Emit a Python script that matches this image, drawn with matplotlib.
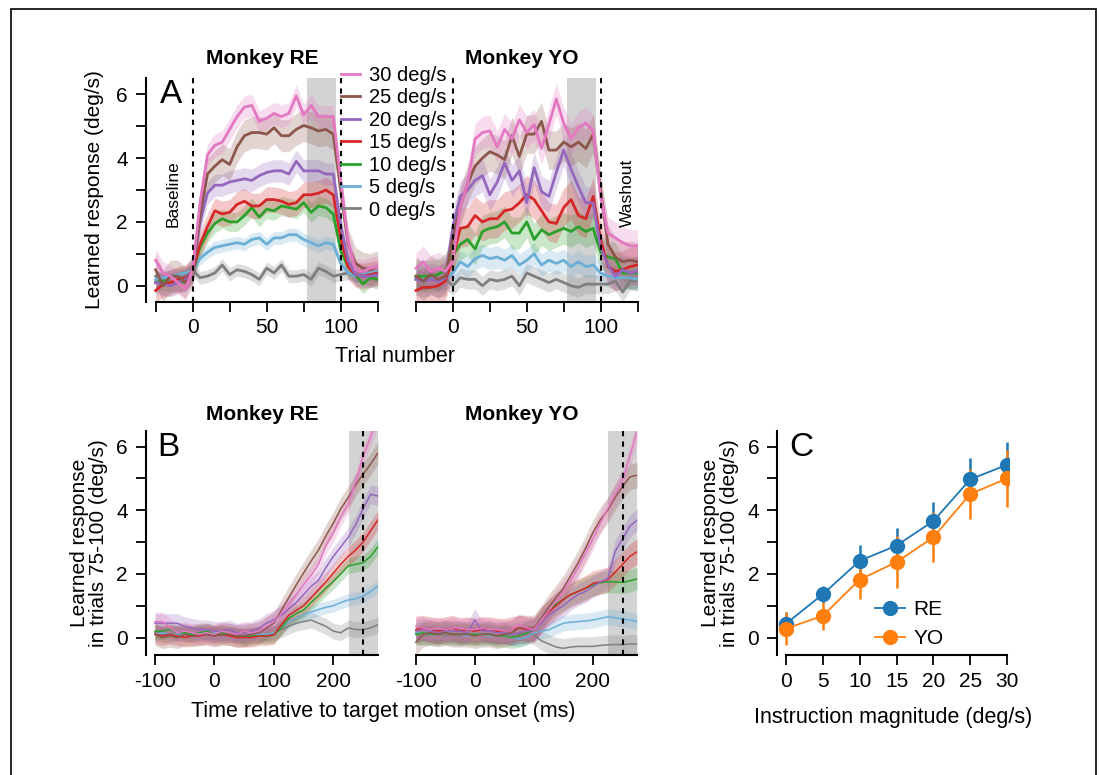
import matplotlib.pyplot as plt
import matplotlib.patches as patches
from matplotlib.lines import Line2D
import numpy as np

plt.rcParams['font.family'] = ['Liberation Sans', 'DejaVu Sans']
plt.rcParams['axes.unicode_minus'] = False

speeds = [30, 25, 20, 15, 10, 5, 0]
labels = ['%d deg/s' % s for s in speeds]
colors = ['#e377c2', '#8c564b', '#9467bd', '#d62728', '#2ca02c', '#6baed6', '#7f7f7f']

# ---- learning curves, 5-trial bins ----
trials = np.arange(-25, 130, 5)

a_re_30 = [0.8, 0.4, 0.3, 0.1, -0.1, 0.5, 2.6, 4.1, 4.4, 4.5, 4.9, 5.3, 5.6, 5.65, 5.15, 5.25, 5.4, 5.3, 5.4, 5.95, 5.35, 5.65, 5.3, 5.3, 5.3, 3.3, 1.4, 0.5, 0.45, 0.55, 0.6]
a_re_25 = [0.5, 0.0, 0.3, 0.3, 0.1, 0.45, 2.2, 3.5, 3.75, 3.95, 3.8, 4.35, 4.7, 4.8, 4.8, 4.75, 4.95, 4.7, 4.7, 4.9, 5.02, 4.95, 4.85, 4.9, 4.75, 3.0, 1.3, 0.7, 0.55, 0.5, 0.6]
a_re_20 = [0.1, 0.05, 0.0, 0.1, 0.2, 0.45, 2.0, 2.9, 3.15, 3.15, 3.25, 3.3, 3.35, 3.3, 3.45, 3.55, 3.6, 3.6, 3.5, 3.9, 3.6, 3.6, 3.6, 3.5, 3.5, 1.9, 0.8, 0.35, 0.3, 0.3, 0.35]
a_re_15 = [-0.15, 0.05, 0.1, 0.2, 0.25, 0.45, 1.3, 1.85, 2.35, 2.25, 2.3, 2.55, 2.65, 2.5, 2.5, 2.7, 2.7, 2.65, 2.55, 2.6, 2.85, 2.85, 2.9, 3.0, 2.85, 1.5, 0.6, 0.35, 0.3, 0.35, 0.4]
a_re_10 = [0.1, 0.15, 0.1, 0.15, 0.1, 0.45, 1.2, 1.65, 1.95, 2.1, 2.0, 2.0, 2.2, 2.45, 2.15, 2.4, 2.35, 2.5, 2.45, 2.4, 2.6, 2.3, 2.5, 2.45, 2.25, 1.1, 0.6, 0.35, 0.05, 0.25, 0.2]
a_re_5 = [0.2, 0.25, 0.3, 0.35, 0.4, 0.45, 0.85, 1.05, 1.2, 1.25, 1.3, 1.35, 1.3, 1.45, 1.5, 1.3, 1.5, 1.5, 1.6, 1.6, 1.45, 1.35, 1.25, 1.35, 1.3, 0.7, 0.4, 0.3, 0.35, 0.4, 0.45]
a_re_0 = [0.3, 0.2, 0.3, 0.35, 0.3, 0.5, 0.25, 0.3, 0.4, 0.65, 0.35, 0.5, 0.45, 0.35, 0.2, 0.55, 0.4, 0.65, 0.3, 0.3, 0.35, 0.2, 0.55, 0.45, 0.3, 0.35, 0.4, 0.3, 0.35, 0.35, 0.3]

a_yo_30 = [0.55, 0.75, 0.45, 0.55, 0.45, 0.8, 2.5, 3.2, 4.6, 4.8, 4.85, 4.35, 4.9, 4.6, 5.2, 4.8, 5.05, 4.3, 5.05, 5.85, 5.1, 4.6, 4.95, 5.1, 4.85, 2.8, 1.65, 1.5, 1.35, 1.25, 1.25]
a_yo_25 = [0.3, 0.15, 0.35, 0.2, 0.3, 1.5, 2.5, 3.2, 3.75, 4.0, 4.2, 4.1, 3.95, 4.7, 4.05, 4.75, 4.75, 5.15, 4.25, 4.25, 4.5, 4.35, 4.5, 4.3, 4.75, 3.0, 1.3, 0.9, 0.75, 0.8, 0.75]
a_yo_20 = [0.2, 0.15, 0.2, 0.15, 0.25, 1.85, 2.8, 3.0, 3.3, 3.45, 2.85, 3.25, 3.85, 3.3, 3.6, 2.6, 3.7, 2.95, 2.8, 3.55, 4.25, 3.65, 3.1, 2.6, 2.6, 1.2, 0.65, 0.3, 0.5, 0.4, 0.45]
a_yo_15 = [-0.15, -0.05, -0.05, 0.0, 0.15, 0.9, 1.8, 1.85, 2.2, 2.0, 2.1, 2.1, 2.35, 2.4, 2.6, 2.85, 2.7, 2.35, 2.0, 1.95, 2.45, 2.7, 2.2, 2.1, 2.8, 1.45, 0.6, 0.45, 0.5, 0.6, 0.65]
a_yo_10 = [0.3, 0.3, 0.3, 0.35, 0.5, 0.95, 1.3, 1.45, 1.15, 1.7, 1.8, 1.85, 2.0, 1.65, 1.65, 2.0, 1.45, 1.75, 1.6, 1.7, 1.8, 1.7, 1.85, 1.7, 1.8, 1.05, 0.9, 0.85, 0.4, 0.4, 0.4]
a_yo_5 = [0.25, 0.2, 0.25, 0.15, 0.2, 0.4, 0.75, 0.6, 0.85, 0.95, 0.85, 0.9, 0.8, 0.95, 0.65, 0.8, 1.0, 0.65, 0.8, 0.7, 0.8, 0.6, 0.75, 0.6, 0.65, 0.4, 0.3, 0.25, 0.25, 0.25, 0.2]
a_yo_0 = [0.2, 0.15, 0.25, 0.15, 0.2, 0.0, 0.25, 0.2, 0.2, 0.0, 0.2, 0.15, 0.2, 0.3, 0.0, 0.4, 0.3, 0.2, 0.1, 0.2, 0.1, 0.0, -0.05, 0.05, 0.05, 0.05, 0.05, 0.15, -0.2, 0.15, 0.15]

a_re_sem = [0.35, 0.5, 0.35, 0.4, 0.3, 0.2, 0.2]
a_yo_sem = [0.5, 0.6, 0.5, 0.6, 0.5, 0.35, 0.3]

# ---- average eye velocity in trials 75-100 ----
time_ms = np.arange(-100, 275.1, 12.5)

b_re_30 = [0.5, 0.5, 0.3, 0.15, 0.2, 0.15, 0.1, 0.15, 0.1, 0.2, 0.15, 0.1, 0.2, 0.15, 0.2, 0.35, 0.5, 0.75, 1.05, 1.35, 1.66, 1.95, 2.3, 2.9, 3.3, 3.8, 4.2, 4.9, 5.7, 6.3, 6.9]
b_re_25 = [0.1, 0.0, 0.05, 0.0, 0.1, 0.05, 0.1, 0.1, 0.05, 0.1, 0.1, 0.05, 0.05, 0.1, 0.15, 0.3, 0.45, 0.85, 1.25, 1.65, 2.03, 2.4, 2.75, 3.2, 3.6, 4.05, 4.4, 4.8, 5.13, 5.45, 5.8]
b_re_20 = [0.45, 0.45, 0.45, 0.45, 0.35, 0.3, 0.25, 0.25, 0.2, 0.2, 0.25, 0.15, 0.15, 0.2, 0.3, 0.45, 0.56, 0.7, 0.9, 1.1, 1.35, 1.6, 1.8, 2.2, 2.55, 2.85, 3.15, 3.55, 4.05, 4.5, 4.45]
b_re_15 = [0.1, 0.05, 0.1, 0.05, 0.0, 0.05, 0.05, 0.1, 0.05, 0.1, 0.05, 0.0, 0.0, 0.0, 0.05, 0.05, 0.08, 0.4, 0.7, 0.85, 1.0, 1.25, 1.5, 1.75, 2.03, 2.3, 2.55, 2.75, 3.0, 3.35, 3.7]
b_re_10 = [0.2, 0.2, 0.25, 0.15, 0.15, 0.1, 0.15, 0.2, 0.1, 0.15, 0.1, 0.05, 0.0, 0.05, 0.05, 0.05, 0.08, 0.3, 0.6, 0.75, 0.87, 1.1, 1.32, 1.55, 1.77, 2.0, 2.25, 2.3, 2.35, 2.55, 2.85]
b_re_5 = [0.1, 0.15, 0.1, 0.1, 0.15, 0.1, 0.15, 0.1, 0.15, 0.1, 0.1, 0.05, 0.05, 0.1, 0.1, 0.1, 0.14, 0.3, 0.48, 0.6, 0.72, 0.8, 0.88, 0.95, 1.0, 1.1, 1.18, 1.22, 1.3, 1.45, 1.62]
b_re_0 = [0.15, 0.1, 0.1, 0.15, 0.1, 0.1, 0.15, 0.1, 0.1, 0.05, 0.1, 0.1, 0.05, 0.1, 0.1, 0.1, 0.14, 0.25, 0.35, 0.45, 0.5, 0.55, 0.45, 0.35, 0.2, 0.15, 0.3, 0.25, 0.25, 0.3, 0.4]

b_yo_30 = [0.35, 0.3, 0.25, 0.3, 0.25, 0.3, 0.3, 0.25, 0.25, 0.3, 0.25, 0.25, 0.2, 0.25, 0.4, 0.3, 0.25, 0.55, 0.85, 1.15, 1.45, 1.8, 2.2, 2.65, 3.1, 3.6, 4.05, 4.5, 4.95, 5.7, 6.5]
b_yo_25 = [-0.15, 0.1, 0.15, 0.1, 0.15, 0.1, 0.1, 0.1, 0.05, 0.1, 0.1, 0.05, 0.1, 0.15, 0.3, 0.3, 0.3, 0.6, 0.95, 1.25, 1.55, 1.95, 2.35, 2.8, 3.3, 3.7, 4.0, 4.4, 4.75, 5.05, 5.1]
b_yo_20 = [0.2, 0.25, 0.2, 0.15, 0.2, 0.2, 0.2, 0.15, 0.55, 0.2, 0.2, 0.15, 0.15, 0.1, 0.15, 0.2, 0.24, 0.45, 0.7, 0.85, 1.0, 1.2, 1.35, 1.45, 1.6, 1.75, 1.85, 2.7, 3.1, 3.5, 3.7]
b_yo_15 = [0.25, 0.3, 0.25, 0.2, 0.25, 0.3, 0.2, 0.25, 0.2, 0.25, 0.25, 0.2, 0.2, 0.25, 0.3, 0.25, 0.24, 0.55, 0.8, 1.0, 1.2, 1.35, 1.45, 1.55, 1.7, 1.75, 1.82, 2.05, 2.3, 2.55, 2.7]
b_yo_10 = [0.1, 0.15, 0.1, 0.1, 0.15, 0.1, 0.1, 0.1, 0.1, 0.1, 0.1, 0.05, 0.05, 0.0, 0.05, 0.15, 0.24, 0.6, 0.85, 1.05, 1.2, 1.35, 1.45, 1.55, 1.65, 1.72, 1.75, 1.75, 1.73, 1.78, 1.85]
b_yo_5 = [0.15, 0.15, 0.1, 0.1, 0.15, 0.1, 0.1, 0.05, 0.1, 0.1, 0.05, 0.05, 0.05, 0.0, -0.05, 0.0, 0.14, 0.2, 0.24, 0.35, 0.45, 0.48, 0.5, 0.52, 0.55, 0.6, 0.65, 0.62, 0.58, 0.55, 0.5]
b_yo_0 = [0.1, 0.05, 0.1, 0.1, 0.05, 0.1, 0.05, 0.1, 0.05, 0.1, 0.1, 0.05, 0.1, 0.05, 0.1, 0.1, 0.08, -0.1, -0.2, -0.3, -0.34, -0.3, -0.28, -0.28, -0.28, -0.25, -0.23, -0.22, -0.23, -0.2, -0.21]

b_re_sem = [0.3, 0.35, 0.3, 0.3, 0.25, 0.2, 0.25]
b_yo_sem = [0.35, 0.4, 0.35, 0.4, 0.35, 0.25, 0.3]

# ---- mean learned response vs instruction size ----
instr = [0, 5, 10, 15, 20, 25, 30]
c_re_mean = [0.43, 1.36, 2.41, 2.89, 3.66, 4.97, 5.43]
c_re_err = [0.38, 0.27, 0.49, 0.54, 0.59, 0.66, 0.73]
c_yo_mean = [0.28, 0.68, 1.82, 2.37, 3.15, 4.51, 5.0]
c_yo_err = [0.53, 0.44, 0.6, 0.82, 0.78, 0.8, 0.89]

a_re = [a_re_30, a_re_25, a_re_20, a_re_15, a_re_10, a_re_5, a_re_0]
a_yo = [a_yo_30, a_yo_25, a_yo_20, a_yo_15, a_yo_10, a_yo_5, a_yo_0]
b_re = [b_re_30, b_re_25, b_re_20, b_re_15, b_re_10, b_re_5, b_re_0]
b_yo = [b_yo_30, b_yo_25, b_yo_20, b_yo_15, b_yo_10, b_yo_5, b_yo_0]

W, H = 1099, 775
fig = plt.figure(figsize=(W / 100, H / 100), dpi=100)


def px_axes(left, top, right, bottom):
    return fig.add_axes([left / W, 1 - bottom / H, (right - left) / W, (bottom - top) / H])


def style(ax, show_y=True):
    for s in ['top', 'right']:
        ax.spines[s].set_visible(False)
    ax.spines['left'].set_linewidth(1.5)
    ax.spines['bottom'].set_linewidth(1.5)
    ax.tick_params(which='both', direction='out', length=7, width=1.3, labelsize=15)
    ax.tick_params(axis='y', which='both', pad=6)
    ax.tick_params(axis='x', which='both', pad=5)
    if show_y:
        ax.set_yticks([0, 2, 4, 6])
        ax.set_yticks([1, 3, 5], minor=True)
    else:
        ax.spines['left'].set_visible(False)
        ax.set_yticks([])
        ax.tick_params(axis='y', which='both', left=False, labelleft=False)


# panel A
ax_a = [px_axes(146, 78.3, 377.7, 301.7), px_axes(406.4, 78.3, 637.5, 301.7)]
for i, (ax, data, sem) in enumerate(zip(ax_a, [a_re, a_yo], [a_re_sem, a_yo_sem])):
    ax.axvspan(77, 97, color='#d3d3d3', lw=0, zorder=0)
    for vals, s, c, lab in list(zip(data, sem, colors, labels))[::-1]:
        vals = np.array(vals)
        ax.fill_between(trials, vals - s, vals + s, color=c, alpha=0.25, lw=0)
        ax.plot(trials, vals, color=c, lw=2, label=lab)
    for xv in [0, 100]:
        ax.axvline(xv, color='k', ls=(0, (2.5, 2.5)), lw=1.5)
    ax.set_xlim(-31.5, 125)
    ax.set_ylim(-0.5, 6.5)
    ax.spines['bottom'].set_bounds(-25, 125)
    ax.set_xticks([0, 50, 100])
    ax.set_xticks([-25, 25, 75, 125], minor=True)
    style(ax, show_y=(i == 0))
    ax.set_title('Monkey RE' if i == 0 else 'Monkey YO', fontsize=15, fontweight='bold', pad=10)
ax_a[0].set_ylabel('Learned response (deg/s)', fontsize=15, labelpad=9)
ax_a[0].text(0.06, 0.995, 'A', transform=ax_a[0].transAxes, fontsize=24, va='top')
ax_a[0].text(-13, 2.9, 'Baseline', rotation=90, fontsize=12.5, ha='center', va='center')
ax_a[1].text(118, 2.9, 'Washout', rotation=90, fontsize=12.5, ha='center', va='center')
fig.text(395 / W, 1 - 356 / H, 'Trial number', fontsize=15.5, ha='center', va='center')

handles, leg_labels = ax_a[0].get_legend_handles_labels()
fig.legend(handles[::-1], leg_labels[::-1], loc='upper left', bbox_to_anchor=(341 / W, 1 - 66 / H),
           frameon=False, fontsize=14.5, handlelength=0.95, handletextpad=0.45,
           labelspacing=0.17, borderaxespad=0, borderpad=0)

# panel B
ax_b = [px_axes(146, 430.7, 378, 655), px_axes(406.9, 430.7, 637.3, 655)]
for i, (ax, data, sem) in enumerate(zip(ax_b, [b_re, b_yo], [b_re_sem, b_yo_sem])):
    ax.axvspan(226, 275, color='#d3d3d3', lw=0, zorder=0)
    for vals, s, c in list(zip(data, sem, colors))[::-1]:
        vals = np.array(vals)
        ax.fill_between(time_ms, vals - s, vals + s, color=c, alpha=0.25, lw=0)
        ax.plot(time_ms, vals, color=c, lw=1.1)
    ax.axvline(250, color='k', ls=(0, (2.5, 2.5)), lw=1.5)
    ax.set_xlim(-115, 275)
    ax.set_ylim(-0.55, 6.5)
    ax.spines['bottom'].set_bounds(-100, 275)
    ax.set_xticks([-100, 0, 100, 200])
    style(ax, show_y=(i == 0))
    ax.set_title('Monkey RE' if i == 0 else 'Monkey YO', fontsize=15, fontweight='bold', pad=8)
ax_b[0].set_ylabel('Learned response\nin trials 75-100 (deg/s)', fontsize=15, labelpad=6, linespacing=1.0)
ax_b[0].text(0.05, 0.995, 'B', transform=ax_b[0].transAxes, fontsize=24, va='top')
fig.text(383 / W, 1 - 711 / H, 'Time relative to target motion onset (ms)', fontsize=15.5,
         ha='center', va='center')

# panel C
ax_c = px_axes(777.3, 430.7, 1009.3, 655)
ax_c.errorbar(instr, c_re_mean, yerr=c_re_err, fmt='o-', color='#1f77b4', ms=10, lw=1.3,
              elinewidth=1.8, capsize=0)
ax_c.errorbar(instr, c_yo_mean, yerr=c_yo_err, fmt='o-', color='#ff7f0e', ms=10, lw=1.3,
              elinewidth=1.8, capsize=0)
ax_c.set_xlim(-1.17, 30.3)
ax_c.set_ylim(-0.55, 6.5)
ax_c.spines['bottom'].set_bounds(0, 30)
ax_c.set_xticks(instr)
style(ax_c)
ax_c.set_ylabel('Learned response\nin trials 75-100 (deg/s)', fontsize=15, labelpad=6, linespacing=1.0)
ax_c.set_xlabel('Instruction magnitude (deg/s)', fontsize=15.5, labelpad=12)
ax_c.text(0.05, 0.995, 'C', transform=ax_c.transAxes, fontsize=24, va='top')
c_handles = [Line2D([], [], color='#1f77b4', marker='o', ms=10, lw=1.3),
             Line2D([], [], color='#ff7f0e', marker='o', ms=10, lw=1.3)]
ax_c.legend(c_handles, ['RE', 'YO'], loc='upper left', bbox_to_anchor=(0.42, 0.245), frameon=False,
            fontsize=15, handlelength=1.45, handletextpad=0.4, labelspacing=0.5,
            borderaxespad=0, borderpad=0)

fig.patches.append(patches.Rectangle((11 / W, -0.02), 1085 / W, 1.02 - 9 / H, transform=fig.transFigure,
                                     fill=False, edgecolor='k', lw=1.2))

fig.savefig('out.png', dpi=100)
